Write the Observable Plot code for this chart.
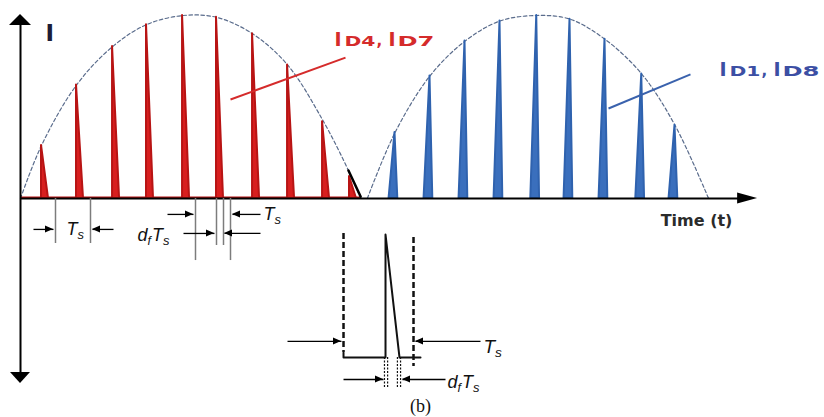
<!DOCTYPE html>
<html>
<head>
<meta charset="utf-8">
<script src="https://cdn.jsdelivr.net/npm/d3@7"></script>
<script src="https://cdn.jsdelivr.net/npm/@observablehq/plot@0.6"></script>
<style>
  html, body { margin: 0; padding: 0; background: #fff; }
  #chart svg { display: block; }
</style>
</head>
<body>
<div id="chart"></div>
<script>
// Diode currents of the converter: ID4/ID7 conduct during the positive half-cycle,
// ID1/ID8 during the negative one. Time is counted in switching periods Ts,
// current is normalised to the peak of the envelope.

// ID4, ID7 pulses: start time (Ts) and peak current
const redTimes = [0.6, 1.6, 2.63, 3.6, 4.63, 5.6, 6.63, 7.63, 8.63, 9.4];
const redPeaks = [0.29, 0.62, 0.83, 0.95, 1.0, 0.99, 0.90, 0.73, 0.42, 0.12];
// ID1, ID8 pulses
const blueTimes = [10.7, 11.7, 12.7, 13.7, 14.75, 15.7, 16.7, 17.75, 18.7];
const bluePeaks = [0.36, 0.67, 0.86, 0.97, 1.0, 0.98, 0.87, 0.68, 0.40];
// envelopes (dashed)
const redEnvT = [0, 0.6, 1.6, 2.63, 3.6, 4.65, 5.6, 6.63, 7.63, 8.63, 9.37, 9.72];
const redEnvI = [0, 0.29, 0.62, 0.83, 0.95, 1.0, 0.99, 0.90, 0.73, 0.43, 0.153, 0];
const blueEnvT = [9.91, 10.7, 11.7, 12.7, 13.7, 14.75, 15.7, 16.7, 17.75, 18.7, 19.66];
const blueEnvI = [0, 0.36, 0.67, 0.86, 0.97, 1.0, 0.98, 0.87, 0.68, 0.40, 0];
// end of the positive half-cycle, drawn solid
const tailT = [9.37, 9.72];
const tailI = [0.153, 0.01];
// switching parameters
const Ts = 1;       // switching period
const dutyF = 0.2;  // df, falling-current interval as a fraction of Ts
const blueDrop = 0.08;

// ---------- derived tables ----------
const redSpikes = redTimes.flatMap((t, i) => [
  {id: i, t, I: redPeaks[i]},
  {id: i, t: t + dutyF * Ts, I: 0}
]);
const blueSpikes = blueTimes.flatMap((t, i) => [
  {id: i, t: t - 0.85 * dutyF * Ts, I: 0},
  {id: i, t, I: bluePeaks[i]},
  {id: i, t: t + blueDrop, I: 0}
]);
const redEnv = redEnvT.map((t, i) => ({t, I: redEnvI[i]}));
const blueEnv = blueEnvT.map((t, i) => ({t, I: blueEnvI[i]}));
const tail = tailT.map((t, i) => ({t, I: tailI[i]}));

// magnified single switching period (inset)
const inset0 = 9.229, insetK = 2, insetBase = -0.869, insetTop = -0.197;
const insetRise = inset0 + 0.6 * Ts * insetK;
const insetFall = insetRise + dutyF * Ts * insetK;
const insetEnd = inset0 + Ts * insetK;
const insetPath = [
  {t: inset0, I: -0.842}, {t: inset0, I: insetBase},
  {t: insetRise, I: insetBase}, {t: insetRise, I: insetTop},
  {t: insetFall, I: insetBase}, {t: insetEnd + 0.2, I: insetBase}
];

// axes (double-ended vertical, time to the right)
const axisTop = 1.005, axisBottom = -1.011, axisRight = 21.06;

// dimension arrows
const dims = [
  {x1: 0.371, y1: -0.169, x2: 0.943, y2: -0.169},
  {x1: 2.657, y1: -0.169, x2: 2.057, y2: -0.169},
  {x1: 4.2, y1: -0.087, x2: 4.943, y2: -0.087},
  {x1: 6.857, y1: -0.087, x2: 6.057, y2: -0.087},
  {x1: 4.657, y1: -0.191, x2: 5.543, y2: -0.191},
  {x1: 6.857, y1: -0.191, x2: 5.829, y2: -0.191},
  {x1: 7.629, y1: -0.781, x2: 9.171, y2: -0.781},
  {x1: 13.143, y1: -0.781, x2: 11.286, y2: -0.781},
  {x1: 9.229, y1: -0.989, x2: 10.371, y2: -0.989},
  {x1: 12.143, y1: -0.989, x2: 10.914, y2: -0.989}
].map(d => ({...d, len: 8, half: 3.5}));
const axisHeads = [
  {x1: 0, y1: 0, x2: 0, y2: axisTop, len: 11, half: 11},
  {x1: 0, y1: 0, x2: 0, y2: axisBottom, len: 11, half: 10},
  {x1: 0, y1: 0, x2: axisRight, y2: 0, len: 20, half: 5.5}
];

// guide lines marking Ts and df*Ts
const guides = [
  {x: 1 * Ts, y2: -0.246}, {x: 2 * Ts, y2: -0.246},
  {x: 5 * Ts, y2: -0.339}, {x: redTimes[5], y2: -0.257},
  {x: redTimes[5] + dutyF * Ts, y2: -0.257}, {x: 6 * Ts, y2: -0.339}
];

// filled arrowheads drawn in screen space at the tip of each arrow
function arrowHeads(list, color = "#000") {
  return (index, scales) => {
    const g = d3.create("svg:g").attr("fill", color);
    for (const a of list) {
      const x1 = scales.x(a.x1), y1 = scales.y(a.y1);
      const x2 = scales.x(a.x2), y2 = scales.y(a.y2);
      const ang = Math.atan2(y2 - y1, x2 - x1);
      const bx = x2 - a.len * Math.cos(ang), by = y2 - a.len * Math.sin(ang);
      const px = -Math.sin(ang) * a.half, py = Math.cos(ang) * a.half;
      g.append("path").attr("d", `M${x2},${y2}L${bx + px},${by + py}L${bx - px},${by - py}Z`);
    }
    return g.node();
  };
}

// text made of pieces (subscripts, mixed sizes) set on a common baseline;
// a piece with `w` is stretched to that width
const measure = document.createElement("canvas").getContext("2d");
const stretched = new Map();
function richText(x, y, parts, base) {
  let off = 0;
  const marks = [];
  for (const p of parts) {
    const q = {style: "normal", weight: "normal", sub: 0, gap: 0, ...base, ...p};
    if (q.at !== undefined) off = q.at;
    marks.push(Plot.text([q.text], {
      x: () => x, y: () => y, text: d => d,
      textAnchor: q.anchor || "start",
      fontFamily: q.family, fontSize: q.size, fontWeight: q.weight, fontStyle: q.style,
      fill: q.color, dx: off, dy: -0.32 * q.size + q.sub
    }));
    measure.font = `${q.style} ${q.weight} ${q.size}px "${q.family}"`;
    let w = measure.measureText(q.text).width;
    if (q.w) { stretched.set(q.text, q.w); w = q.w; }
    off += w + q.gap;
  }
  return marks;
}
const italic = {family: "Liberation Sans", style: "italic", color: "#111"};
const TsParts = (s) => [{text: "T", size: s}, {text: "s", size: s * 0.72, sub: s * 0.22}];
const dfTsParts = (s) => [
  {text: "d", size: s}, {text: "f", size: s * 0.68, sub: s * 0.22, gap: 1},
  {text: "T", size: s}, {text: "s", size: s * 0.72, sub: s * 0.22}
];
const currentLabel = (a, b, color) => ({
  parts: [
    {text: "I", size: 19, at: -1}, {text: "D" + a, size: 14, w: 31, at: 9},
    {text: ",", size: 15, at: 41}, {text: "I", size: 19, at: 53},
    {text: "D" + b, size: 14, w: 37, at: 62}
  ],
  base: {family: "DejaVu Sans", weight: "bold", color}
});
const redLab = currentLabel(4, 7, "#d52b2b");
const blueLab = currentLabel(1, 8, "#3c4fa4");

const red = "#d81f1f", redEdge = "#b81414";
const blue = "#3a6fbd", blueEdge = "#2f62ae";
const env = {x: "t", y: "I", curve: "catmull-rom", stroke: "#5a6c8c", strokeWidth: 1.2, strokeDasharray: "3.5,2.5"};

const chart = Plot.plot({
  width: 824,
  height: 417,
  margin: 0,
  x: {domain: [-20 / 35, 804 / 35], axis: null},
  y: {domain: [-219 / 183, 198 / 183], axis: null},
  style: {background: "#fff"},
  marks: [
    // envelopes
    Plot.line(redEnv, env),
    Plot.line(blueEnv, env),
    // conduction pulses
    Plot.ruleY([0], {x1: 0, x2: tailT[1], stroke: redEdge, strokeWidth: 2, dy: -1}),
    Plot.areaY(redSpikes, {x: "t", y: "I", z: "id", fill: red, stroke: redEdge, strokeWidth: 2, strokeLinejoin: "round"}),
    Plot.areaY(blueSpikes, {x: "t", y: "I", z: "id", fill: blue, stroke: blueEdge, strokeWidth: 2, strokeLinejoin: "round"}),
    Plot.line(tail, {x: "t", y: "I", stroke: "#000", strokeWidth: 2.5}),
    // axes
    Plot.link([{x1: 0, y1: axisBottom + 0.03, x2: 0, y2: axisTop - 0.03}], {x1: "x1", y1: "y1", x2: "x2", y2: "y2", stroke: "#000", strokeWidth: 2}),
    Plot.link([{x1: 0, y1: 0, x2: axisRight - 0.3, y2: 0}], {x1: "x1", y1: "y1", x2: "x2", y2: "y2", stroke: "#000", strokeWidth: 2}),
    arrowHeads(axisHeads),
    // Ts / dfTs guides
    Plot.ruleX(guides, {x: "x", y1: 0, y2: "y2", stroke: "#7c7c7c", strokeWidth: 1.5}),
    // inset: one switching period, magnified
    Plot.ruleX([inset0], {y1: -0.191, y2: -0.842, stroke: "#111", strokeWidth: 2.5, strokeDasharray: "6,3"}),
    Plot.ruleX([insetEnd], {y1: -0.213, y2: -0.918, stroke: "#111", strokeWidth: 2.5, strokeDasharray: "6,3"}),
    Plot.line(insetPath, {x: "t", y: "I", stroke: "#111", strokeWidth: 2}),
    Plot.ruleX([insetRise - 0.03, insetRise + 0.06, insetFall - 0.06, insetFall + 0.03], {y1: insetBase, y2: -1.038, stroke: "#111", strokeWidth: 1.2, strokeDasharray: "2,1.5"}),
    // dimension arrows
    Plot.link(dims, {x1: "x1", y1: "y1", x2: "x2", y2: "y2", stroke: "#000", strokeWidth: 1.3}),
    arrowHeads(dims),
    // label pointers
    Plot.link([{x1: 6.0, y1: 0.541, x2: 9.286, y2: 0.770}], {x1: "x1", y1: "y1", x2: "x2", y2: "y2", stroke: "#d52b2b", strokeWidth: 2}),
    Plot.link([{x1: 16.8, y1: 0.492, x2: 19.143, y2: 0.678}], {x1: "x1", y1: "y1", x2: "x2", y2: "y2", stroke: "#3a62ad", strokeWidth: 2}),
    // labels
    ...richText(0.714, 0.863, [{text: "I", size: 23}], {family: "DejaVu Sans", weight: "bold", color: "#1c1c38"}),
    ...richText(9.0, 0.836, redLab.parts, redLab.base),
    ...richText(20.0, 0.667, blueLab.parts, blueLab.base),
    ...richText(18.29, -0.148, [{text: "Time (t)", size: 16}], {family: "DejaVu Sans", weight: "bold", color: "#2b2b2b"}),
    ...richText(1.314, -0.202, TsParts(18), italic),
    ...richText(6.943, -0.120, TsParts(18), italic),
    ...richText(3.343, -0.230, dfTsParts(18), italic),
    ...richText(13.229, -0.842, TsParts(19), italic),
    ...richText(12.2, -1.038, dfTsParts(18), italic),
    ...richText(11.43, -1.164, [{text: "(b)", size: 18, anchor: "middle"}], {family: "Liberation Serif", color: "#111"})
  ]
});

// widen the subscripted diode names
chart.querySelectorAll("text").forEach(t => {
  const w = stretched.get(t.textContent);
  if (w) t.setAttribute("textLength", w), t.setAttribute("lengthAdjust", "spacingAndGlyphs");
});
document.getElementById("chart").append(chart);
</script>
</body>
</html>
